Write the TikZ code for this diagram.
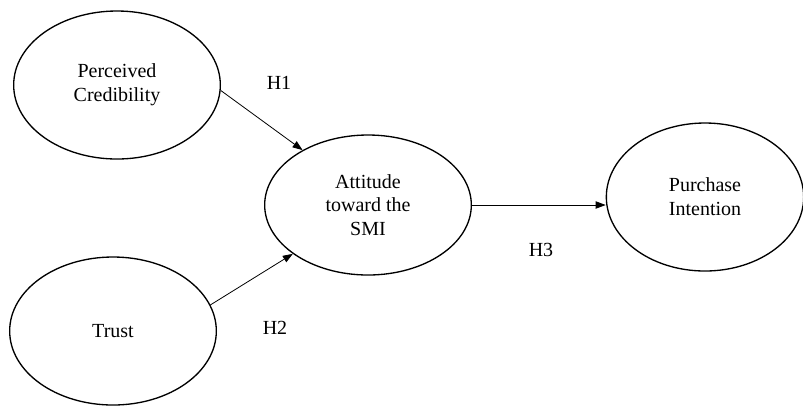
\documentclass[tikz,border=0pt]{standalone}
\usepackage{fontspec}
\setmainfont{Liberation Serif}
\usetikzlibrary{positioning,arrows.meta,shapes.geometric}

\begin{document}
\begin{tikzpicture}[
        x=0.75pt, y=-0.75pt,
        construct/.style={ellipse, draw, line width=1pt, inner sep=0pt, minimum width=155pt, minimum height=111pt, align=center, font=\fontsize{15}{17.8}\selectfont},
        hyp/.style={font=\fontsize{15}{17.8}\selectfont},
        path/.style={-{Triangle[length=7.5pt,width=5.5pt]}, line width=0.6pt},
        >=Stealth
      ]

      \useasboundingbox (0,0) rectangle (803,405);

      \node[construct] (cred) at (117, 85) {Perceived\\Credibility};
      \node[construct] (trust) at (113, 331) {Trust};
      \node[construct, minimum height=105pt] (att) at (368, 205) {Attitude\\toward the\\SMI};
      \node[construct, minimum width=148pt] (pur) at (705, 197) {Purchase\\Intention};

      \draw[path] (cred.-3) -- (att.140);
      \draw[path] (trust.15) -- (att.-147);
      \draw[path] (att.east) -- (att.east -| pur.west);

      \node[hyp] (h1) at (279, 83) {H1};
      \node[hyp] (h2) at (275, 328) {H2};
      \node[hyp] (h3) at (541, 250) {H3};

    \end{tikzpicture}
\end{document}
